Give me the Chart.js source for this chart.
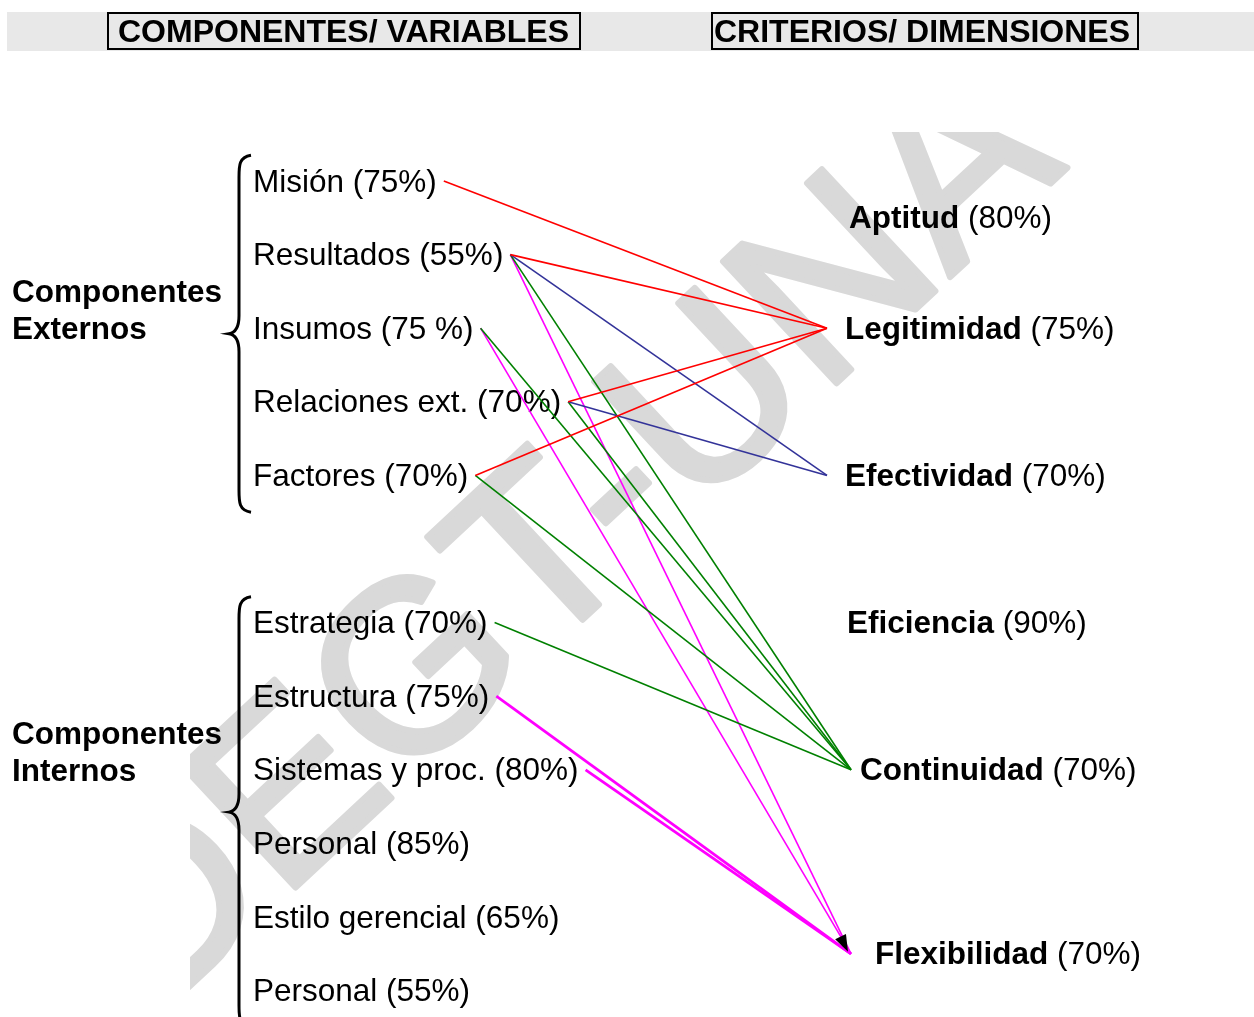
<!DOCTYPE html>
<html>
<head>
<meta charset="utf-8">
<script src="https://cdn.jsdelivr.net/npm/chart.js@4"></script>
<style>
  html, body { margin: 0; padding: 0; background: #fff; }
  canvas { display: block; }
</style>
</head>
<body>
<canvas id="diagram" width="1254" height="1017"></canvas>
<script>
// --- data ---
const headers = ["COMPONENTES/ VARIABLES", "CRITERIOS/ DIMENSIONES"];
const groupNames = [["Componentes", "Externos"], ["Componentes", "Internos"]];
const groupSizes = [5, 6];
const leftNames = ["Misión", "Resultados", "Insumos", "Relaciones ext.", "Factores",
  "Estrategia", "Estructura", "Sistemas y proc.", "Personal", "Estilo gerencial", "Personal"];
const leftPct = ["75%", "55%", "75 %", "70%", "70%", "70%", "75%", "80%", "85%", "65%", "55%"];
const rightNames = ["Aptitud", "Legitimidad", "Efectividad", "Eficiencia", "Continuidad", "Flexibilidad"];
const rightPct = ["80%", "75%", "70%", "90%", "70%", "70%"];
// which left items point at each criterion (indices into leftNames)
const linksLegitimidad = [0, 1, 3, 4];
const linksEfectividad = [1, 3];
const linksContinuidad = [1, 2, 3, 4, 5];
const linksFlexibilidad = [1, 2, 6, 7];
const watermark = "DEGT-UNA";

// --- layout / style ---
const FONT = "'Liberation Sans', Arial, sans-serif";
const fontSize = 31.5;
const textDy = 2;
const slotPx = 73.6, firstSlotPx = 181;
const leftX = 253;
const rightSlot = [0.5, 2, 4, 6, 8, 10.5];
const rightLabelX = [849, 845, 845, 847, 860, 875];
const rightAnchorX = [831, 827, 827, 829, 851, 851];
const targets = [
  { idx: 1, links: linksLegitimidad, color: "#ff0000" },
  { idx: 2, links: linksEfectividad, color: "#333399" },
  { idx: 4, links: linksContinuidad, color: "#008000" },
  { idx: 5, links: linksFlexibilidad, color: "#ff00ff" },
];

// slot of each left item: groups separated by one empty slot
const leftSlot = [];
const groupStart = [];
{
  let s = 0;
  groupSizes.forEach(n => {
    groupStart.push(s);
    for (let i = 0; i < n; i++) leftSlot.push(s++);
    s++;
  });
}
const leftText = leftNames.map((n, i) => `${n} (${leftPct[i]})`);

const measure = document.createElement("canvas").getContext("2d");
measure.font = `${fontSize}px ${FONT}`;
const leftAnchorX = leftText.map(t => leftX + measure.measureText(t).width + 7);

const datasets = [];
targets.forEach(t => {
  t.links.forEach(s => {
    datasets.push({
      data: [{ x: leftAnchorX[s], y: leftSlot[s] }, { x: rightAnchorX[t.idx], y: rightSlot[t.idx] }],
      borderColor: t.color,
      borderWidth: (t.idx === 5 && s >= 5) ? 2.8 : 1.6,
      showLine: true,
      pointRadius: 0,
      target: t.idx,
    });
  });
});

const W = 1254, H = 1017;

const backdrop = {
  id: "backdrop",
  beforeDatasetsDraw(chart) {
    const ctx = chart.ctx;
    const y = chart.scales.y;
    ctx.save();
    // header band
    ctx.fillStyle = "#e8e8e8";
    ctx.fillRect(7, 12, W - 7, 39);
    ctx.strokeStyle = "#000";
    ctx.lineWidth = 2;
    ctx.strokeRect(108, 13, 472, 36);
    ctx.strokeRect(712, 13, 426, 36);
    ctx.fillStyle = "#000";
    ctx.font = `bold 32px ${FONT}`;
    ctx.textBaseline = "middle";
    ctx.textAlign = "left";
    ctx.fillText(headers[0], 118, 33);
    ctx.fillText(headers[1], 714, 33);

    // watermark
    ctx.save();
    ctx.beginPath();
    ctx.rect(190, 132, W - 190, H - 132);
    ctx.clip();
    ctx.translate(565, 545);
    ctx.rotate(-43 * Math.PI / 180);
    ctx.fillStyle = "#d9d9d9";
    ctx.strokeStyle = "#d9d9d9";
    ctx.lineWidth = 6;
    ctx.lineJoin = "round";
    ctx.font = `242px ${FONT}`;
    ctx.textAlign = "center";
    ctx.textBaseline = "middle";
    ctx.fillText(watermark, 0, 0);
    ctx.strokeText(watermark, 0, 0);
    ctx.restore();

    // braces + group labels
    ctx.strokeStyle = "#000";
    ctx.lineWidth = 3;
    groupSizes.forEach((n, g) => {
      const top = y.getPixelForValue(groupStart[g] - 0.35);
      const bot = y.getPixelForValue(groupStart[g] + n - 1 + 0.5);
      const mid = (top + bot) / 2;
      const xs = 239, xe = 251, xt = 229;
      ctx.beginPath();
      ctx.moveTo(xe, top);
      ctx.bezierCurveTo(xs, top + 2, xs, top + 10, xs, top + 22);
      ctx.lineTo(xs, mid - 18);
      ctx.bezierCurveTo(xs, mid - 6, xs - 4, mid - 1, xt, mid);
      ctx.bezierCurveTo(xs - 4, mid + 1, xs, mid + 6, xs, mid + 18);
      ctx.lineTo(xs, bot - 22);
      ctx.bezierCurveTo(xs, bot - 10, xs, bot - 2, xe, bot);
      ctx.stroke();

      ctx.font = `bold ${fontSize}px ${FONT}`;
      ctx.textAlign = "left";
      const c = y.getPixelForValue(groupStart[g] + 1.75) + textDy;
      ctx.fillText(groupNames[g][0], 12, c - 18.5);
      ctx.fillText(groupNames[g][1], 12, c + 18.5);
    });

    // left items
    ctx.font = `${fontSize}px ${FONT}`;
    leftText.forEach((t, i) => ctx.fillText(t, leftX, y.getPixelForValue(leftSlot[i]) + textDy));

    // right items: bold name + regular percentage
    rightNames.forEach((n, i) => {
      const py = y.getPixelForValue(rightSlot[i]) + textDy;
      ctx.font = `bold ${fontSize}px ${FONT}`;
      ctx.fillText(n, rightLabelX[i], py);
      const w = ctx.measureText(n).width;
      ctx.font = `${fontSize}px ${FONT}`;
      ctx.fillText(` (${rightPct[i]})`, rightLabelX[i] + w, py);
    });
    ctx.restore();
  },
  afterDatasetsDraw(chart) {
    // arrow head at Flexibilidad
    const i = chart.data.datasets.findIndex(d => d.target === 5);
    const pts = chart.getDatasetMeta(i).data;
    const a = pts[0], b = pts[1];
    const ang = Math.atan2(b.y - a.y, b.x - a.x);
    const ctx = chart.ctx;
    ctx.save();
    ctx.translate(b.x - 3, b.y - 2);
    ctx.rotate(ang);
    ctx.fillStyle = "#000";
    ctx.beginPath();
    ctx.moveTo(0, 0);
    ctx.lineTo(-17, -6);
    ctx.lineTo(-17, 6);
    ctx.closePath();
    ctx.fill();
    ctx.restore();
  }
};

new Chart(document.getElementById("diagram"), {
  type: "scatter",
  data: { datasets },
  options: {
    responsive: false,
    animation: false,
    layout: { padding: 0 },
    plugins: { legend: { display: false }, tooltip: { enabled: false } },
    scales: {
      x: { type: "linear", min: 0, max: W, display: false },
      y: {
        type: "linear", reverse: true, display: false,
        min: -firstSlotPx / slotPx, max: (H - firstSlotPx) / slotPx,
      },
    },
  },
  plugins: [backdrop],
});
</script>
</body>
</html>
